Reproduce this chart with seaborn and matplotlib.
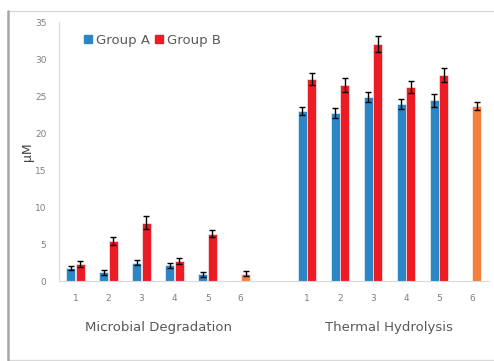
import numpy as np
import pandas as pd
import matplotlib
matplotlib.use("Agg")
import matplotlib.pyplot as plt
from matplotlib.lines import Line2D
import seaborn as sns

# Values
runs = ["1", "2", "3", "4", "5", "6"]
microbial_a = [1.8, 1.2, 2.5, 2.1, 0.9]
microbial_a_err = [0.25, 0.35, 0.4, 0.3, 0.35]
microbial_b = [2.3, 5.4, 7.9, 2.7, 6.4, 1.0]
microbial_b_err = [0.45, 0.55, 0.9, 0.45, 0.5, 0.3]
thermal_a = [23.0, 22.7, 24.9, 23.9, 24.4]
thermal_a_err = [0.5, 0.65, 0.7, 0.7, 0.9]
thermal_b = [27.3, 26.5, 32.0, 26.2, 27.9, 23.7]
thermal_b_err = [0.85, 1.0, 1.05, 0.85, 0.95, 0.55]

blue = "#2C86C5"
red = "#EC1C24"
orange = "#F4823C"
grey_text = "#7F7F7F"

rows = []
for prefix, a, aerr, b, berr in [("M", microbial_a, microbial_a_err, microbial_b, microbial_b_err),
                                  ("T", thermal_a, thermal_a_err, thermal_b, thermal_b_err)]:
    for i, r in enumerate(runs):
        if i < len(a):
            rows.append({"slot": prefix + r, "series": "Group A", "value": a[i], "err": aerr[i]})
        rows.append({"slot": prefix + r, "series": "Group B", "value": b[i], "err": berr[i]})
df = pd.DataFrame(rows)

order = ["M" + r for r in runs] + ["gap"] + ["T" + r for r in runs]

sns.set_style("white")
fig = plt.figure(figsize=(4.94, 3.61), dpi=100)
ax = fig.add_axes([0.1194, 0.2216, 0.8696, 0.7174])

sns.barplot(data=df, x="slot", y="value", hue="series", order=order,
            hue_order=["Group A", "Group B"], palette=[blue, red],
            saturation=1, width=0.58, gap=0.06, errorbar=None,
            edgecolor="white", linewidth=0.4, ax=ax)

# error bars, plus orange colour for run 6
for container, series in zip(ax.containers, ["Group A", "Group B"]):
    sub = df[df["series"] == series].set_index("slot")
    present = [s for s in order if s in sub.index]
    bars = [p for p in container.patches
            if not np.isnan(p.get_height()) and p.get_height() > 0]
    xs = [b.get_x() + b.get_width() / 2 for b in bars]
    ys = [b.get_height() for b in bars]
    es = [sub.loc[s, "err"] for s in present]
    ax.errorbar(xs, ys, yerr=es, fmt="none", ecolor="black",
                elinewidth=1.0, capsize=2.5, capthick=1.0, zorder=5)
    if series == "Group B":
        for bar, s in zip(bars, present):
            if s.endswith("6"):
                bar.set_facecolor(orange)

ax.set_ylim(0, 35)
ax.set_yticks(range(0, 36, 5))
ax.set_xlim(-0.5, len(order) - 0.5)
ax.set_xticks(range(len(order)))
ax.set_xticklabels(runs + [""] + runs)
ax.tick_params(axis="both", length=0, labelsize=6.5, labelcolor=grey_text)
ax.tick_params(axis="x", pad=9)
ax.tick_params(axis="y", pad=9)
ax.set_xlabel("")
ax.set_ylabel("μM", fontsize=9, color="#404040", labelpad=1)

for side in ["top", "right"]:
    ax.spines[side].set_visible(False)
ax.spines["left"].set_color("#D9D9D9")
ax.spines["bottom"].set_color("#D9D9D9")
ax.spines["left"].set_linewidth(0.8)
ax.spines["bottom"].set_linewidth(0.8)

trans = ax.get_xaxis_transform()
ax.text(2.5, -0.178, "Microbial Degradation", transform=trans, ha="center",
        va="center", fontsize=9.5, color="#595959")
ax.text(9.5, -0.178, "Thermal Hydrolysis", transform=trans, ha="center",
        va="center", fontsize=9.5, color="#595959")

handles = [plt.Rectangle((0, 0), 1, 1, color=blue), plt.Rectangle((0, 0), 1, 1, color=red)]
ax.legend(handles, ["Group A", "Group B"], ncol=2, frameon=False,
          loc="upper left", bbox_to_anchor=(0.03, 1.0), fontsize=9.5,
          handlelength=0.6, handleheight=0.6, handletextpad=0.3,
          columnspacing=0.4, labelcolor="#595959")

# outer frame
fig.add_artist(Line2D([8 / 494, 1], [1 - 10.5 / 361] * 2, color="#D9D9D9", lw=1.0))
fig.add_artist(Line2D([8 / 494, 1], [1 - 359.5 / 361] * 2, color="#D9D9D9", lw=1.0))
fig.add_artist(Line2D([8 / 494] * 2, [1 - 10.5 / 361, 1 - 359.5 / 361], color="#A6A6A6", lw=1.8))

fig.savefig("out.png", dpi=100)
